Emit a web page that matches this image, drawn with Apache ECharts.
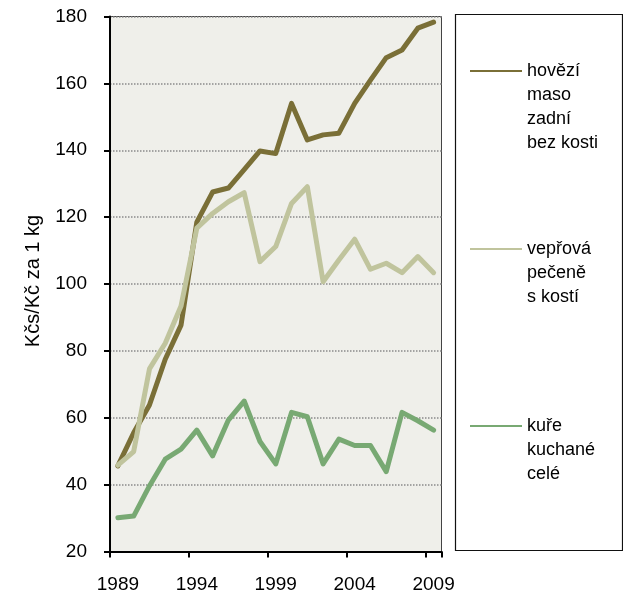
<!DOCTYPE html>
<html>
<head>
<meta charset="utf-8">
<script src="https://cdn.jsdelivr.net/npm/echarts@6/dist/echarts.min.js"></script>
<style>
  html, body { margin: 0; padding: 0; background: #ffffff; }
  #chart { width: 623px; height: 600px; }
</style>
</head>
<body>
<div id="chart"></div>
<script>
// Roky 1989–2009
const years = ['1989','1990','1991','1992','1993','1994','1995','1996','1997','1998','1999',
               '2000','2001','2002','2003','2004','2005','2006','2007','2008','2009'];

// Průměrné spotřebitelské ceny (Kčs/Kč za 1 kg)
const hovezi = [45.6, 55.5, 63.8, 77.5, 87.7, 118.5, 127.5, 128.7, 134.2, 139.8, 139.0,
                154.0, 143.1, 144.6, 145.1, 154.0, 161.0, 167.7, 170.0, 176.5, 178.3];
const veprova = [45.8, 49.9, 74.6, 82.3, 93.4, 116.7, 121.1, 124.6, 127.3, 106.7, 111.2,
                 124.1, 129.1, 100.7, 107.2, 113.4, 104.4, 106.2, 103.4, 108.2, 103.4];
const kure = [30.1, 30.6, 39.6, 47.6, 50.6, 56.3, 48.6, 59.3, 65.0, 52.9, 46.2,
              61.6, 60.3, 46.2, 53.6, 51.7, 51.7, 43.9, 61.6, 59.1, 56.3];

const seriesNames = ['hovězí\nmaso\nzadní\nbez kosti', 'vepřová\npečeně\ns kostí', 'kuře\nkuchané\ncelé'];
const seriesColors = ['#7a6f37', '#c0c49d', '#78a973'];

const FONT = '"Liberation Sans", Arial, sans-serif';
const LEGEND_LINE = 24;

// One legend block per series; blank lines above the name keep the
// first text line level with the legend line
function legendBlock(name, iconY) {
  const n = name.split('\n').length;
  return {
    data: [name],
    left: 470,
    top: iconY - (2 * n - 1) * LEGEND_LINE / 2,
    padding: 0,
    icon: 'rect',
    itemWidth: 52,
    itemHeight: 2,
    itemGap: 6,
    selectedMode: false,
    formatter: function (label) {
      return '\n'.repeat(n - 1) + label;
    },
    textStyle: {
      fontFamily: FONT,
      fontSize: 18,
      color: '#000',
      lineHeight: LEGEND_LINE
    }
  };
}

function lineSeries(name, data, color) {
  return {
    name: name,
    type: 'line',
    data: data,
    symbol: 'none',
    smooth: false,
    color: color,
    itemStyle: { color: color },
    lineStyle: { color: color, width: 5, cap: 'round', join: 'round' },
    emphasis: { disabled: true },
    animation: false
  };
}

const chart = echarts.init(document.getElementById('chart'), null, { renderer: 'canvas' });

chart.setOption({
  animation: false,
  backgroundColor: '#ffffff',
  textStyle: { fontFamily: FONT },
  graphic: [{
    type: 'rect',
    shape: { x: 455.5, y: 14.5, width: 167, height: 536 },
    style: { fill: '#ffffff', stroke: '#111', lineWidth: 1.2 },
    z: -1
  }],
  legend: [
    legendBlock(seriesNames[0], 71),
    legendBlock(seriesNames[1], 249),
    legendBlock(seriesNames[2], 426)
  ],
  grid: {
    left: 110,
    top: 16.5,
    right: 181.5,
    bottom: 48.5,
    show: true,
    backgroundColor: '#efefea',
    borderColor: '#444',
    borderWidth: 1
  },
  xAxis: {
    type: 'category',
    data: years,
    boundaryGap: true,
    axisLine: { show: true, lineStyle: { color: '#000', width: 2 } },
    axisTick: { show: true, interval: 4, length: 6, lineStyle: { color: '#000', width: 2 } },
    axisLabel: { interval: 4, margin: 24, fontSize: 19, color: '#000', fontFamily: FONT },
    splitLine: { show: false }
  },
  yAxis: {
    type: 'value',
    min: 20,
    max: 180,
    interval: 20,
    name: 'Kčs/Kč za 1 kg',
    nameLocation: 'middle',
    nameRotate: 90,
    nameGap: 67,
    nameTextStyle: { fontSize: 20, color: '#000', fontFamily: FONT, padding: [0, 0, 0, 6] },
    axisLine: { show: true, lineStyle: { color: '#000', width: 2 } },
    axisTick: { show: true, length: 6, lineStyle: { color: '#000', width: 2 } },
    axisLabel: { margin: 23, fontSize: 19, color: '#000', fontFamily: FONT },
    splitLine: { show: true, lineStyle: { color: '#8a8a8a', width: 1.5, type: 'dotted' } }
  },
  series: [
    lineSeries(seriesNames[0], hovezi, seriesColors[0]),
    lineSeries(seriesNames[1], veprova, seriesColors[1]),
    lineSeries(seriesNames[2], kure, seriesColors[2])
  ]
});
</script>
</body>
</html>
